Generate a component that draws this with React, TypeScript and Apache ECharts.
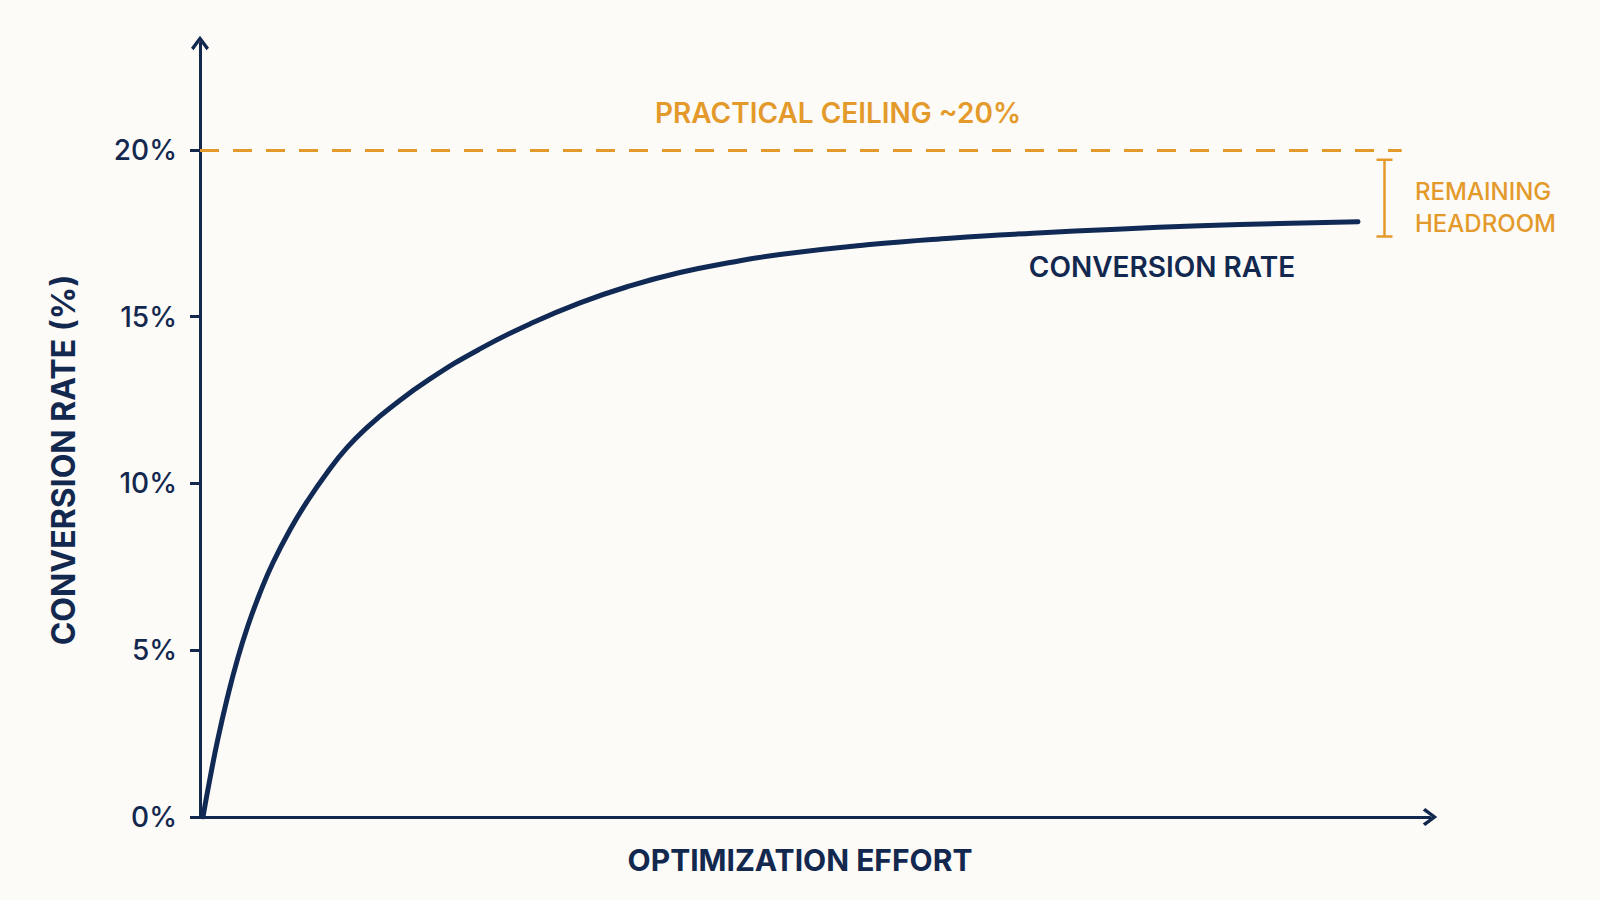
import { useEffect, useRef } from 'react';
import * as echarts from 'echarts';

const NAVY = '#13284f';
const LINE_NAVY = '#112a55';
const ORANGE = '#e39a2b';
const BG = '#fcfbf8';
const FONT = 'Inter, "Noto Sans", sans-serif';

// effort (0-100, arbitrary units) vs conversion rate (%)
const effort = [0.24, 0.81, 1.46, 2.2, 3.01, 3.9, 4.88, 5.93, 7.32, 8.7, 10.33, 11.95, 13.66, 15.45, 18.7, 22.76, 26.83, 30.89, 34.96, 39.02, 43.09, 47.15, 54.23, 60.98, 67.72, 74.55, 81.3, 87.8, 94.15];
const conversion = [0, 1.15, 2.35, 3.54, 4.68, 5.74, 6.72, 7.62, 8.61, 9.45, 10.32, 11.07, 11.7, 12.26, 13.13, 14.03, 14.78, 15.41, 15.92, 16.32, 16.62, 16.86, 17.15, 17.35, 17.5, 17.62, 17.72, 17.79, 17.84];
const yTicks = [0, 5, 10, 15, 20];
const ceiling = 20;
const ceilingEnd = 97.7;
// [x, top, bottom] of the headroom bracket
const headroom = [[96.3, 19.7, 17.4]];

const CHEVRON = 'path://M9,0L18,12L15.5,14.5L9,5.5L2.5,14.5L0,12Z';

export default function App() {
  const ref = useRef<HTMLDivElement | null>(null);

  useEffect(() => {
    if (!ref.current) {
      return;
    }
    const chart = echarts.init(ref.current, null, { renderer: 'svg' });
    const axisLine = {
      show: true,
      symbol: ['none', CHEVRON],
      symbolSize: [18, 15],
      lineStyle: { color: NAVY, width: 3 },
    };
    chart.setOption({
      animation: false,
      backgroundColor: BG,
      textStyle: { fontFamily: FONT },
      grid: { left: 200, right: 170, top: 43, bottom: 83, outerBoundsMode: 'none' },
      xAxis: {
        type: 'value',
        min: 0,
        max: 100,
        axisLine,
        axisTick: { show: false },
        axisLabel: { show: false },
        splitLine: { show: false },
      },
      yAxis: {
        type: 'value',
        min: 0,
        max: 23.2,
        interval: 5,
        axisLine,
        axisTick: {
          show: true,
          length: 10,
          customValues: yTicks,
          lineStyle: { color: NAVY, width: 3 },
        },
        axisLabel: {
          customValues: yTicks,
          margin: 23,
          color: NAVY,
          fontSize: 28,
          fontWeight: 500,
          fontFamily: FONT,
          formatter: (v: number) => `${v}%`,
        },
        splitLine: { show: false },
      },
      series: [
        {
          type: 'line',
          data: effort.map((x, i) => [x, conversion[i]]),
          smooth: 0.5,
          showSymbol: false,
          z: 5,
          lineStyle: { color: LINE_NAVY, width: 5, cap: 'round' },
          markLine: {
            silent: true,
            symbol: 'none',
            label: { show: false },
            lineStyle: { color: ORANGE, width: 3, type: [19, 14] },
            data: [[{ coord: [0, ceiling] }, { coord: [ceilingEnd, ceiling] }]],
          },
        },
        {
          type: 'custom',
          data: headroom,
          renderItem: (_params: any, api: any) => {
            const top = api.coord([api.value(0), api.value(1)]);
            const bottom = api.coord([api.value(0), api.value(2)]);
            const style = { stroke: ORANGE, lineWidth: 2.5 };
            const half = 8;
            return {
              type: 'group',
              children: [
                { type: 'line', shape: { x1: top[0], y1: top[1], x2: bottom[0], y2: bottom[1] }, style },
                { type: 'line', shape: { x1: top[0] - half, y1: top[1], x2: top[0] + half, y2: top[1] }, style },
                { type: 'line', shape: { x1: bottom[0] - half, y1: bottom[1], x2: bottom[0] + half, y2: bottom[1] }, style },
              ],
            };
          },
        },
      ],
      graphic: [
        {
          type: 'text',
          x: 838,
          y: 113,
          style: { text: 'PRACTICAL CEILING ~20%', fill: ORANGE, font: `600 28px ${FONT}`, align: 'center', verticalAlign: 'middle' },
        },
        {
          type: 'text',
          x: 1162,
          y: 267,
          style: { text: 'CONVERSION RATE', fill: NAVY, font: `600 28px ${FONT}`, align: 'center', verticalAlign: 'middle' },
        },
        {
          type: 'text',
          x: 1415,
          y: 207,
          style: { text: 'REMAINING\nHEADROOM', fill: ORANGE, font: `500 24px ${FONT}`, lineHeight: 32, align: 'left', verticalAlign: 'middle' },
        },
        {
          type: 'text',
          x: 800,
          y: 860,
          style: { text: 'OPTIMIZATION EFFORT', fill: NAVY, font: `700 30px ${FONT}`, align: 'center', verticalAlign: 'middle' },
        },
        {
          type: 'text',
          x: 63,
          y: 460,
          rotation: Math.PI / 2,
          style: { text: 'CONVERSION RATE (%)', fill: NAVY, font: `700 32px ${FONT}`, align: 'center', verticalAlign: 'middle' },
        },
      ],
    });
    return () => {
      chart.dispose();
    };
  }, []);

  return (
    <div
      ref={ref}
      style={{ position: 'fixed', left: 0, top: 0, width: 1600, height: 900, background: BG }}
    />
  );
}
